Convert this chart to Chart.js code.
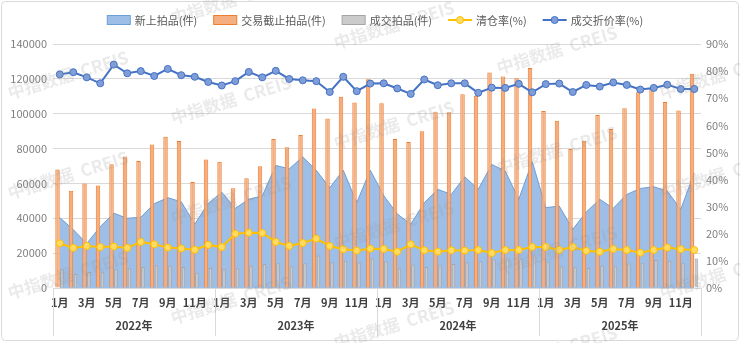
<!DOCTYPE html>
<html>
<head>
<meta charset="utf-8">
<script src="https://cdn.jsdelivr.net/npm/chart.js@4.4.1/dist/chart.umd.min.js"></script>
<style>
  html, body { margin:0; padding:0; background:#fff; }
  #wrap { width:740px; height:343px; }
</style>
</head>
<body>
<div id="wrap"><canvas id="chart" width="740" height="343"></canvas></div>
<script>
// 数据 (2022.1 - 2025.12)
const years  = ['2022年', '2023年', '2024年', '2025年'];
const months = ['1月','2月','3月','4月','5月','6月','7月','8月','9月','10月','11月','12月'];

// 新上拍品(件)
const newListed = [
  40400, 33500, 25500, 35200, 42900, 40000, 40600, 48400, 51800, 49500, 36600, 48500,
  55000, 45700, 50900, 52800, 70300, 68400, 75200, 67500, 57500, 67600, 49000, 67600,
  53000, 42500, 36600, 48900, 56600, 53700, 63800, 56600, 70900, 67100, 50900, 72500,
  46100, 47000, 33700, 43600, 50900, 45700, 53700, 57100, 58100, 55600, 45100, 66000
];
// 交易截止拍品(件)
const closedLots = [
  68000, 55800, 60000, 58800, 71000, 75500, 72800, 82300, 86800, 84300, 60800, 73800,
  72500, 57300, 63000, 69800, 85500, 80800, 87800, 103000, 97300, 109800, 106500, 119800,
  106000, 85500, 83800, 90000, 100800, 100800, 111200, 110300, 123700, 121300, 120300, 126300,
  101500, 96000, 79800, 84500, 99300, 91200, 103200, 112300, 114200, 106700, 101800, 123000
];
// 成交拍品(件)
const dealLots = [
  11000, 8100, 9200, 9000, 10800, 11300, 12100, 13100, 12700, 12100, 8700, 11500,
  10800, 11300, 12700, 13800, 14200, 12500, 14200, 18700, 14800, 15600, 14600, 16900,
  15400, 11300, 13500, 12100, 13100, 13800, 14800, 15200, 16300, 17100, 16500, 18700,
  15000, 12500, 11900, 11500, 12900, 12500, 14000, 14200, 16000, 15600, 14200, 16900
];
// 清仓率(%)
const clearRate = [
  16.5, 14.8, 15.5, 15.1, 15.3, 14.8, 17.0, 16.1, 14.9, 14.6, 14.1, 15.9,
  15.1, 20.0, 20.4, 20.3, 17.0, 15.5, 16.6, 18.2, 15.5, 14.3, 13.8, 14.5,
  14.4, 13.4, 16.1, 13.9, 13.4, 13.9, 13.8, 14.0, 12.9, 14.0, 14.0, 15.1,
  15.1, 14.0, 15.1, 13.7, 13.4, 14.4, 14.0, 13.0, 14.0, 14.9, 14.3, 14.0
];
// 成交折价率(%)
const discountRate = [
  78.8, 79.6, 77.7, 75.5, 82.4, 79.2, 80.0, 78.2, 80.8, 78.5, 77.9, 76.0,
  74.7, 76.3, 79.7, 77.7, 80.1, 77.1, 76.6, 76.3, 72.3, 77.9, 72.6, 75.4,
  75.5, 73.6, 71.6, 76.9, 74.8, 75.5, 75.5, 72.0, 73.9, 73.8, 75.3, 72.2,
  75.2, 75.4, 72.3, 74.9, 74.3, 75.8, 74.9, 73.2, 73.8, 75.0, 73.4, 73.4
];

const leftTicks  = [0, 20000, 40000, 60000, 80000, 100000, 120000, 140000];
const rightTicks = [0, 10, 20, 30, 40, 50, 60, 70, 80, 90];

const labels = years.flatMap(() => months);

const FONT = '"Noto Sans CJK SC", "Liberation Sans", sans-serif';
Chart.defaults.font.family = FONT;
Chart.defaults.font.size = 11;
Chart.defaults.color = '#595959';

// 外框 + 背景
const framePlugin = {
  id: 'frame',
  beforeDraw(chart) {
    const { ctx, width, height } = chart;
    ctx.save();
    ctx.fillStyle = '#fff';
    ctx.fillRect(0, 0, width, height);
    ctx.strokeStyle = '#d9d9d9';
    ctx.lineWidth = 1;
    ctx.beginPath();
    ctx.roundRect(1.5, 1.5, width - 3, height - 4, 4);
    ctx.stroke();
    ctx.restore();
  }
};

// 年份分组 + 分隔线
const yearAxisPlugin = {
  id: 'yearAxis',
  afterDraw(chart) {
    const { ctx, chartArea } = chart;
    const x = chart.scales.x;
    const step = x.getPixelForValue(1) - x.getPixelForValue(0);
    const top = chartArea.bottom;
    ctx.save();
    ctx.strokeStyle = '#d9d9d9';
    ctx.lineWidth = 1;
    for (let g = 0; g <= years.length; g++) {
      const px = Math.round(x.getPixelForValue(g * 12) - step / 2) + 0.5;
      ctx.beginPath();
      ctx.moveTo(px, top);
      ctx.lineTo(px, top + 48);
      ctx.stroke();
    }
    ctx.fillStyle = '#404040';
    ctx.font = 'bold 11px ' + FONT;
    ctx.textAlign = 'center';
    ctx.textBaseline = 'middle';
    years.forEach((yr, g) => {
      const cx = (x.getPixelForValue(g * 12) + x.getPixelForValue(g * 12 + 11)) / 2;
      ctx.fillText(yr, cx, top + 38);
    });
    ctx.restore();
  }
};

// 图例
const legendPlugin = {
  id: 'topLegend',
  afterDraw(chart) {
    const { ctx } = chart;
    const sets = chart.data.datasets;
    const boxW = 24, gap = 4, space = 16, cy = 20;
    ctx.save();
    ctx.font = '11px ' + FONT;
    const widths = sets.map(d => boxW + gap + ctx.measureText(d.label).width);
    const total = widths.reduce((a, b) => a + b, 0) + space * (sets.length - 1);
    let cx = 375 - total / 2;
    sets.forEach((d, i) => {
      if (d.type === 'bar' || d.fill) {
        ctx.fillStyle = d.backgroundColor;
        ctx.strokeStyle = d.borderColor;
        ctx.lineWidth = 1;
        ctx.fillRect(cx + 0.5, cy - 4.5, boxW - 1, 9);
        ctx.strokeRect(cx + 0.5, cy - 4.5, boxW - 1, 9);
      } else {
        ctx.strokeStyle = d.borderColor;
        ctx.lineWidth = 2;
        ctx.beginPath();
        ctx.moveTo(cx, cy);
        ctx.lineTo(cx + boxW, cy);
        ctx.stroke();
        ctx.beginPath();
        ctx.arc(cx + boxW / 2, cy, 3.5, 0, Math.PI * 2);
        ctx.fillStyle = d.pointBackgroundColor;
        ctx.fill();
        ctx.lineWidth = 1;
        ctx.stroke();
      }
      ctx.fillStyle = '#595959';
      ctx.textAlign = 'left';
      ctx.textBaseline = 'middle';
      ctx.fillText(d.label, cx + boxW + gap, cy + 1);
      cx += widths[i] + space;
    });
    ctx.restore();
  }
};

// 水印
const watermarkPlugin = {
  id: 'watermark',
  afterDraw(chart) {
    const { ctx } = chart;
    ctx.save();
    ctx.font = 'bold 17px ' + FONT;
    ctx.fillStyle = 'rgba(150,150,150,0.2)';
    ctx.textAlign = 'center';
    ctx.textBaseline = 'middle';
    for (let c = 0; c < 5; c++) {
      for (let r = -1; r < 4; r++) {
        const wx = 68 + 163 * c;
        const wy = 75 + 100 * r + 25 * c;
        if (wy < -20 || wy > 360) continue;
        ctx.save();
        ctx.translate(wx, wy);
        ctx.rotate(-17 * Math.PI / 180);
        ctx.fillText('中指数据  CREIS', 0, 0);
        ctx.restore();
      }
    }
    ctx.restore();
  }
};

new Chart(document.getElementById('chart'), {
  data: {
    labels,
    datasets: [
      {
        type: 'line', label: '新上拍品(件)', data: newListed, yAxisID: 'y',
        fill: 'origin', backgroundColor: '#9dbee7', borderColor: '#6b9fd8',
        borderWidth: 1, pointRadius: 0, tension: 0, order: 5
      },
      {
        type: 'bar', label: '交易截止拍品(件)', data: closedLots, yAxisID: 'y',
        backgroundColor: '#f5ae80', borderColor: '#ed7d31', borderWidth: 1,
        barPercentage: 1.0, categoryPercentage: 0.66, order: 3
      },
      {
        type: 'bar', label: '成交拍品(件)', data: dealLots, yAxisID: 'y',
        backgroundColor: '#cbcbcb', borderColor: '#a5a5a5', borderWidth: 1,
        barPercentage: 0.8, categoryPercentage: 0.66, order: 4
      },
      {
        type: 'line', label: '清仓率(%)', data: clearRate, yAxisID: 'y1',
        borderColor: '#ffc000', backgroundColor: '#ffc000', borderWidth: 2,
        pointRadius: 3.5, pointBorderWidth: 1, pointBorderColor: '#ffc000',
        pointBackgroundColor: '#ffdb66', tension: 0, order: 1
      },
      {
        type: 'line', label: '成交折价率(%)', data: discountRate, yAxisID: 'y1',
        borderColor: '#4472c4', backgroundColor: '#4472c4', borderWidth: 2,
        pointRadius: 3.5, pointBorderWidth: 1, pointBorderColor: '#4472c4',
        pointBackgroundColor: '#7f9ed9', tension: 0, order: 0
      }
    ]
  },
  options: {
    responsive: false,
    animation: false,
    devicePixelRatio: 1,
    layout: { padding: { top: 44, left: 0, right: 0, bottom: 0 } },
    plugins: {
      legend: { display: false },
      tooltip: { enabled: false }
    },
    scales: {
      x: {
        type: 'category',
        offset: true,
        grid: { display: false, drawTicks: false },
        border: { display: true, color: '#d9d9d9' },
        ticks: {
          autoSkip: false, maxRotation: 0, minRotation: 0, padding: 8,
          color: '#404040', font: { weight: 'bold' },
          callback: (v, i) => (i % 2 === 0 ? labels[i] : '')
        },
        afterFit: s => { s.height = 55; }
      },
      y: {
        position: 'left', min: 0, max: 140000,
        grid: { color: '#d9d9d9', drawTicks: false },
        border: { display: false },
        ticks: { padding: 6, color: '#7f7f7f', callback: v => String(v) },
        afterBuildTicks: s => { s.ticks = leftTicks.map(v => ({ value: v })); },
        afterFit: s => { s.width = 53; }
      },
      y1: {
        position: 'right', min: 0, max: 90,
        grid: { display: false, drawTicks: false },
        border: { display: false },
        ticks: { padding: 5, color: '#7f7f7f', callback: v => v + '%' },
        afterBuildTicks: s => { s.ticks = rightTicks.map(v => ({ value: v })); },
        afterFit: s => { s.width = 39; }
      }
    }
  },
  plugins: [framePlugin, yearAxisPlugin, legendPlugin, watermarkPlugin]
});
</script>
</body>
</html>
